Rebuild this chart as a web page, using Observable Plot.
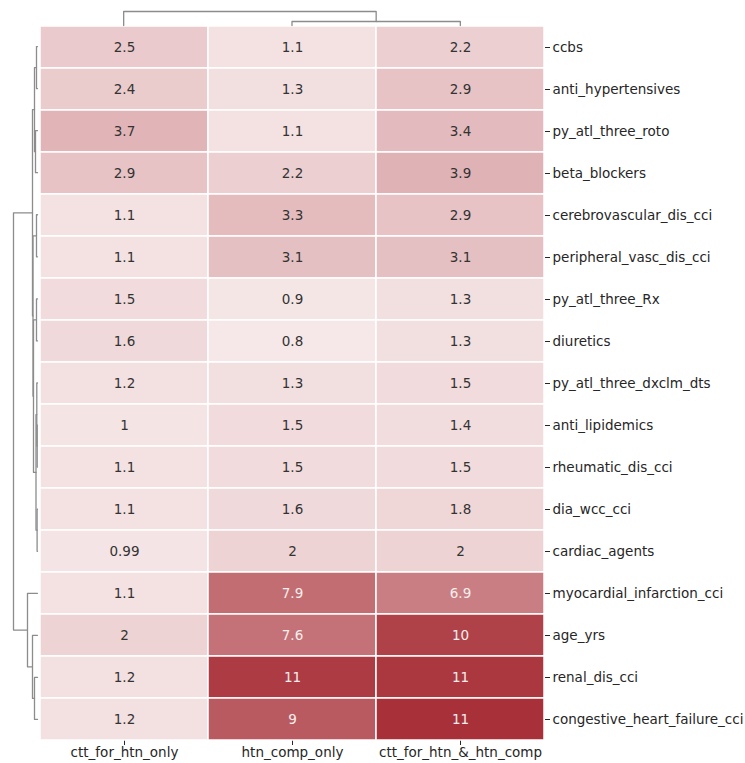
<!DOCTYPE html>
<html><head><meta charset="utf-8">
<script src="https://cdn.jsdelivr.net/npm/d3@7"></script>
<script src="https://cdn.jsdelivr.net/npm/@observablehq/plot@0.6"></script>
<style>
body{margin:0;background:#fff}
#chart{position:relative;width:745px;height:763px}
#chart svg{position:absolute;left:0;top:0;background:transparent}
</style>
</head><body><div id="chart"></div>
<script>
const rows = ["ccbs","anti_hypertensives","py_atl_three_roto","beta_blockers","cerebrovascular_dis_cci","peripheral_vasc_dis_cci","py_atl_three_Rx","diuretics","py_atl_three_dxclm_dts","anti_lipidemics","rheumatic_dis_cci","dia_wcc_cci","cardiac_agents","myocardial_infarction_cci","age_yrs","renal_dis_cci","congestive_heart_failure_cci"];
const cols = ["ctt_for_htn_only","htn_comp_only","ctt_for_htn_&_htn_comp"];
const cttForHtnOnly   = [2.5,2.4,3.7,2.9,1.1,1.1,1.5,1.6,1.2,1.0,1.1,1.1,0.99,1.1,2.0,1.2,1.2];
const htnCompOnly     = [1.1,1.3,1.1,2.2,3.3,3.1,0.9,0.8,1.3,1.5,1.5,1.6,2.0,7.9,7.6,10.8,9.0];
const cttForHtnAndComp= [2.2,2.9,3.4,3.9,2.9,3.1,1.3,1.3,1.5,1.4,1.5,1.8,2.0,6.9,10.4,11.0,11.4];
// linkage: [childA, childB, distance]; leaves 0..n-1 in display order
const rowLinkage = [[0,1,1],[2,3,2],[17,18,3],[4,5,1],[6,7,1],[9,10,0.3],[8,22,0.7],[11,12,0.4],[23,24,1.5],[21,25,4],[20,26,4.5],[19,27,5],[15,16,3],[14,29,5],[13,30,10],[28,31,24]];
const colLinkage = [[1,2,4],[0,3,14]];

const W = 745, H = 763;
const series = [cttForHtnOnly, htnCompOnly, cttForHtnAndComp];
const cells = rows.flatMap((r,i) => cols.map((c,j) => ({row:r, col:c, value:series[j][i]})));
const fmt = d3.format(".2~g");

function dendro(linkage, n) {
  const pos = d3.range(n).map(i => i + 0.5);
  const h = new Array(n).fill(0);
  const pts = [];
  linkage.forEach(([a,b,d],k) => {
    const id = n + k;
    pos[id] = (pos[a] + pos[b]) / 2; h[id] = d;
    [[pos[a],h[a]],[pos[a],d],[pos[b],d],[pos[b],h[b]]].forEach(([p,q]) => pts.push({node:id, pos:p, dist:q}));
  });
  return pts;
}

const font = {fontFamily:"'DejaVu Sans', sans-serif", fontSize:"13.5px", background:"transparent", color:"#262626"};
const lineStyle = {stroke:"#8c8c8c", strokeWidth:1.3};

const heat = Plot.plot({
  width: W, height: H,
  marginLeft: 39, marginRight: 201, marginTop: 25, marginBottom: 23,
  style: font,
  x: {domain: cols, padding: 0, label: null, tickSize: 5, tickPadding: 2},
  y: {domain: rows, padding: 0, label: null, axis: "right", tickSize: 5, tickPadding: 3},
  color: {type: "linear", domain: [0, 11.5], range: ["#fcf5f5", "#a72f37"]},
  marks: [
    Plot.cell(cells, {x:"col", y:"row", fill:"value", stroke:"white", strokeWidth:1.5}),
    Plot.text(cells.filter(d => d.value < 5), {x:"col", y:"row", text: d => fmt(d.value), fill:"#333333", fontSize:13.5}),
    Plot.text(cells.filter(d => d.value >= 5), {x:"col", y:"row", text: d => fmt(d.value), fill:"#f7eeee", fontSize:13.5})
  ]
});

const rowDen = Plot.plot({
  width: W, height: H,
  marginLeft: 13, marginRight: W - 37, marginTop: 25, marginBottom: 23,
  style: {background:"transparent"},
  x: {domain: [24, 0], axis: null},
  y: {domain: [rows.length, 0], axis: null},
  marks: [Plot.line(dendro(rowLinkage, rows.length), {x:"dist", y:"pos", z:"node", ...lineStyle})]
});

const colDen = Plot.plot({
  width: W, height: H,
  marginLeft: 39, marginRight: 201, marginTop: 11, marginBottom: H - 25,
  style: {background:"transparent"},
  x: {domain: [0, cols.length], axis: null},
  y: {domain: [0, 14], axis: null},
  marks: [Plot.line(dendro(colLinkage, cols.length), {x:"pos", y:"dist", z:"node", ...lineStyle})]
});

const root = document.getElementById("chart");
root.append(heat, rowDen, colDen);
</script>
</body></html>
